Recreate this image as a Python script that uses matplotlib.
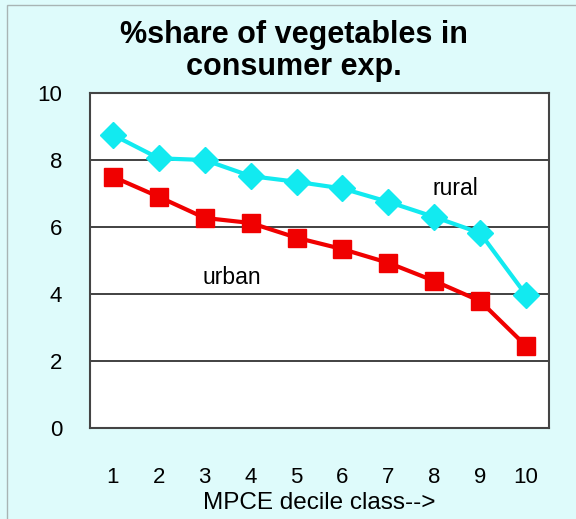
import numpy as np
import matplotlib
matplotlib.use('Agg')
import matplotlib.pyplot as plt
from matplotlib.patches import Rectangle

# ---Data
decile = [1, 2, 3, 4, 5, 6, 7, 8, 9, 10]
rural = [8.75, 8.05, 8.0, 7.52, 7.35, 7.15, 6.75, 6.3, 5.82, 3.97]
urban = [7.5, 6.9, 6.27, 6.12, 5.68, 5.34, 4.93, 4.39, 3.79, 2.45]
y_ticks = [0, 2, 4, 6, 8, 10]

title = '%share of vegetables in\nconsumer exp.'
x_title = 'MPCE decile class-->'

bg = '#defbfb'
cyan = '#12eaf0'
red = '#f00000'

plt.rcParams['font.family'] = ['Liberation Sans', 'DejaVu Sans']

fig = plt.figure(figsize=(5.76, 5.19), dpi=100, facecolor=bg)
ax = fig.add_axes([90 / 576, 1 - 428 / 519, 459 / 576, 335 / 519])
ax.set_facecolor('white')

# ---Thin frame round the figure (top and left edges visible)
fig.patches.append(Rectangle((7 / 576, -0.1), 1.2, 1 - 5 / 519 + 0.1,
                             transform=fig.transFigure, fill=False,
                             edgecolor='#a8b4b4', linewidth=1.0))

# ---Gridlines
for yv in y_ticks[1:-1]:
    ax.axhline(yv, color='#333333', linewidth=1.3, zorder=1)

ax.plot(decile, rural, color=cyan, linewidth=3, marker='D', markersize=13,
        zorder=3)
ax.plot(decile, urban, color=red, linewidth=3, marker='s', markersize=13.5,
        zorder=3)

ax.text(8.45, 7.15, 'rural', fontsize=16.5, ha='center', va='center')
ax.text(3.6, 4.5, 'urban', fontsize=16.5, ha='center', va='center')

ax.set_xlim(0.5, 10.5)
ax.set_ylim(0, 10)
ax.set_xticks(decile)
ax.set_yticks(y_ticks)
ax.tick_params(axis='both', length=0, labelsize=16)
ax.tick_params(axis='y', pad=20)
ax.tick_params(axis='x', pad=28)
ax.set_xlabel(x_title, fontsize=17.5, labelpad=3)

for sp in ax.spines.values():
    sp.set_color('#444444')
    sp.set_linewidth(1.5)

fig.text(0.51, 1 - 20 / 519, title, ha='center', va='top', fontsize=22,
         fontweight='bold', linespacing=1.08)

fig.savefig('out.png', dpi=100, facecolor=bg)
